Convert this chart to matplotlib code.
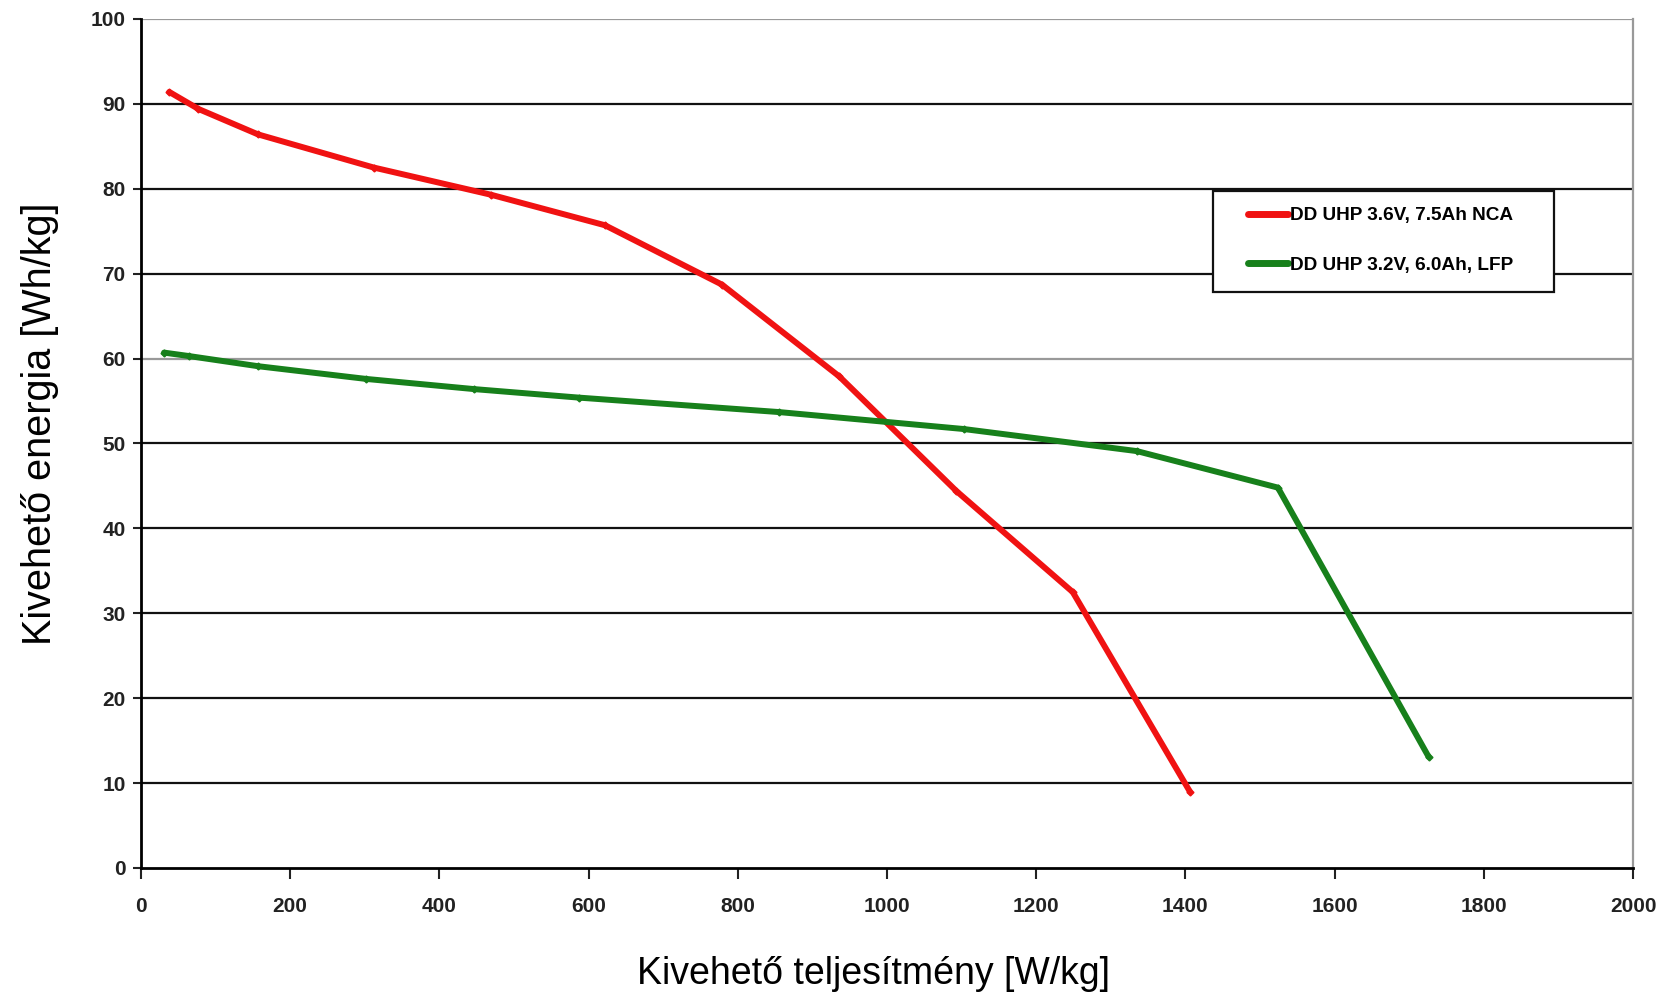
import numpy as np
import matplotlib.pyplot as plt
from matplotlib.patches import Rectangle

plt.rcParams['font.family'] = ['Liberation Sans', 'DejaVu Sans']

# NCA cella
nca_p = [38, 77, 157, 312, 469, 622, 779, 936, 1093, 1249, 1406]
nca_e = [91.4, 89.4, 86.4, 82.5, 79.3, 75.7, 68.7, 57.9, 44.4, 32.5, 9.0]
# LFP cella
lfp_p = [31, 64, 157, 302, 447, 587, 855, 1103, 1335, 1524, 1726]
lfp_e = [60.7, 60.3, 59.1, 57.6, 56.4, 55.4, 53.7, 51.7, 49.1, 44.8, 13.1]

labels = ['DD UHP 3.6V, 7.5Ah NCA', 'DD UHP 3.2V, 6.0Ah, LFP']
xticks = np.arange(0, 2001, 200)
yticks = np.arange(0, 101, 10)

fig = plt.figure(figsize=(16.66, 9.97), dpi=100)
ax = fig.add_axes([0.0846, 0.1294, 0.8956, 0.8516])

for y in yticks[1:]:
    c = '#999999' if y in (60, 100) else '#111111'
    ax.axhline(y, color=c, lw=1.6, zorder=1)

ax.plot(nca_p, nca_e, color='#f01212', lw=4.3, marker='D', ms=3.5,
        solid_capstyle='round', label=labels[0], zorder=3)
ax.plot(lfp_p, lfp_e, color='#17801b', lw=4.3, marker='D', ms=3.5,
        solid_capstyle='round', label=labels[1], zorder=3)

ax.set_xlim(0, 2000)
ax.set_ylim(0, 100)
ax.set_xticks(xticks)
ax.set_yticks(yticks)
for lab in ax.get_xticklabels() + ax.get_yticklabels():
    lab.set_fontweight('bold')
ax.tick_params(axis='both', labelsize=15, colors='#222222', width=1.5)
ax.tick_params(axis='x', direction='out', length=8, pad=13)
ax.tick_params(axis='y', direction='out', length=6, pad=5)

ax.spines['left'].set_linewidth(2)
ax.spines['bottom'].set_linewidth(2)
ax.spines['right'].set_color('#999999')
ax.spines['right'].set_linewidth(1.6)
ax.spines['top'].set_visible(False)

ax.set_xlabel('Kivehető teljesítmény [W/kg]', fontsize=27)
ax.xaxis.set_label_coords(0.491, -0.104)
ax.set_ylabel('Kivehető energia [Wh/kg]', fontsize=28.5)
ax.yaxis.set_label_coords(-0.055, 0.523)

# legend keret
ax.add_patch(Rectangle((0.7187, 0.678), 0.2286, 0.119, transform=ax.transAxes,
                       facecolor='white', edgecolor='#111111', lw=1.6, zorder=4))
leg = ax.legend(loc='center left', bbox_to_anchor=(0.742, 0.739), frameon=False,
                handlelength=2.1, handletextpad=0.1, borderpad=0, borderaxespad=0,
                labelspacing=1.7, prop={'size': 13.7, 'weight': 'bold'})
leg.set_zorder(5)
for h in leg.get_lines():
    h.set_marker('')
    h.set_linewidth(5)

fig.savefig('out.png', dpi=100)
